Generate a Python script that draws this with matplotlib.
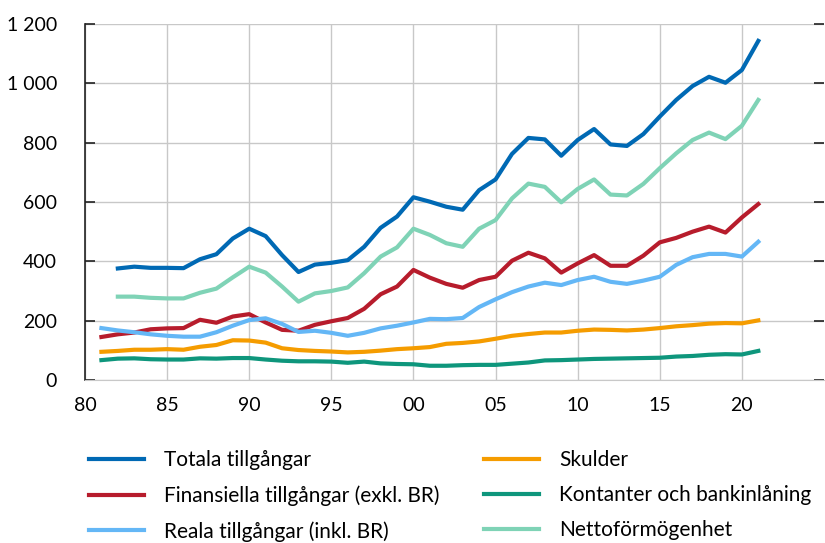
import numpy as np
from matplotlib import pyplot as plt

plt.rcParams['font.family'] = ['Lato', 'DejaVu Sans']

# years
years81 = list(range(1981, 2022))
years82 = list(range(1982, 2022))

# Totala tillgångar (1982-2021)
totala = [376, 382, 378, 378, 377, 407, 424, 477, 510, 485,
          421, 364, 389, 395, 404, 449, 513, 551, 616, 601,
          584, 574, 640, 676, 762, 816, 811, 756, 809, 846,
          794, 789, 829, 888, 944, 991, 1022, 1002, 1045, 1143]

# Nettoförmögenhet (1982-2021)
netto = [281, 281, 277, 275, 275, 294, 308, 346, 382, 362,
         315, 264, 292, 300, 312, 360, 416, 447, 510, 489,
         461, 449, 510, 539, 612, 662, 651, 599, 644, 676,
         625, 622, 661, 714, 764, 809, 834, 812, 857, 944]

# Finansiella tillgångar (exkl. BR) (1981-2021)
finans = [145, 154, 160, 171, 174, 175, 203, 193, 214, 222,
          194, 169, 166, 186, 198, 209, 240, 289, 315, 371,
          345, 324, 311, 337, 348, 402, 429, 410, 362, 393,
          421, 385, 385, 419, 464, 479, 500, 517, 497, 548, 593]

# Reala tillgångar (inkl. BR) (1981-2021)
reala = [175, 167, 161, 154, 149, 146, 146, 161, 183, 202,
         208, 189, 162, 166, 159, 149, 159, 174, 183, 194,
         206, 205, 209, 246, 272, 296, 315, 328, 320, 337,
         348, 331, 324, 335, 348, 388, 414, 425, 425, 416, 466]

# Skulder (1981-2021)
skulder = [95, 98, 102, 102, 104, 102, 112, 118, 134, 133,
           126, 107, 101, 98, 96, 93, 95, 99, 104, 107,
           111, 122, 125, 130, 139, 149, 155, 160, 160, 166,
           170, 169, 167, 170, 175, 181, 185, 190, 192, 191, 201]

# Kontanter och bankinlåning (1981-2021)
kontanter = [67, 72, 73, 70, 69, 69, 73, 72, 74, 74,
             69, 65, 63, 63, 62, 58, 62, 56, 54, 53,
             48, 48, 50, 51, 51, 55, 59, 66, 67, 69,
             71, 72, 73, 74, 75, 79, 81, 85, 87, 86, 98]

fig = plt.figure(figsize=(8.25, 5.43), dpi=100)
ax = fig.add_axes([85 / 825, 1 - 380 / 543, 739 / 825, 356 / 543])

lw = 3.0
l1, = ax.plot(years82, totala, color='#0069B4', lw=lw, label='Totala tillgångar')
l2, = ax.plot(years81, finans, color='#B71C2C', lw=lw, label='Finansiella tillgångar (exkl. BR)')
l3, = ax.plot(years81, reala, color='#64B7F6', lw=lw, label='Reala tillgångar (inkl. BR)')
l4, = ax.plot(years81, skulder, color='#F59C00', lw=lw, label='Skulder')
l5, = ax.plot(years81, kontanter, color='#0E967C', lw=lw, label='Kontanter och bankinlåning')
l6, = ax.plot(years82, netto, color='#7FD3B6', lw=lw, label='Nettoförmögenhet')

ax.set_xlim(1980, 2025)
ax.set_ylim(0, 1200)
xt = list(range(1980, 2021, 5))
ax.set_xticks(xt)
ax.set_xticklabels([str(y)[2:] for y in xt])
yt = list(range(0, 1201, 200))
ax.set_yticks(yt)
ax.set_yticklabels([f'{v:,}'.replace(',', ' ') for v in yt])

ax.grid(True, color='#c8c8c8', lw=1)
ax.set_axisbelow(True)
for s in ['top', 'right']:
    ax.spines[s].set_visible(False)
ax.spines['bottom'].set_color('#c8c8c8')
ax.spines['left'].set_color('#222222')
ax.spines['left'].set_linewidth(1.2)
ax.tick_params(axis='x', length=0, pad=12, labelsize=14)
ax.tick_params(axis='y', direction='in', length=7, width=1.2, pad=20,
               labelsize=14, right=True, color='#222222')

leg_kw = dict(loc='upper left', frameon=False, fontsize=15, borderpad=0,
              handlelength=2.6, handletextpad=1.0, labelspacing=0.72)
fig.legend(handles=[l1, l2, l3], bbox_to_anchor=(79 / 825, 1 - 440 / 543), **leg_kw)
fig.legend(handles=[l4, l5, l6], bbox_to_anchor=(474 / 825, 1 - 440 / 543), **leg_kw)

fig.savefig('out.png', dpi=100)
